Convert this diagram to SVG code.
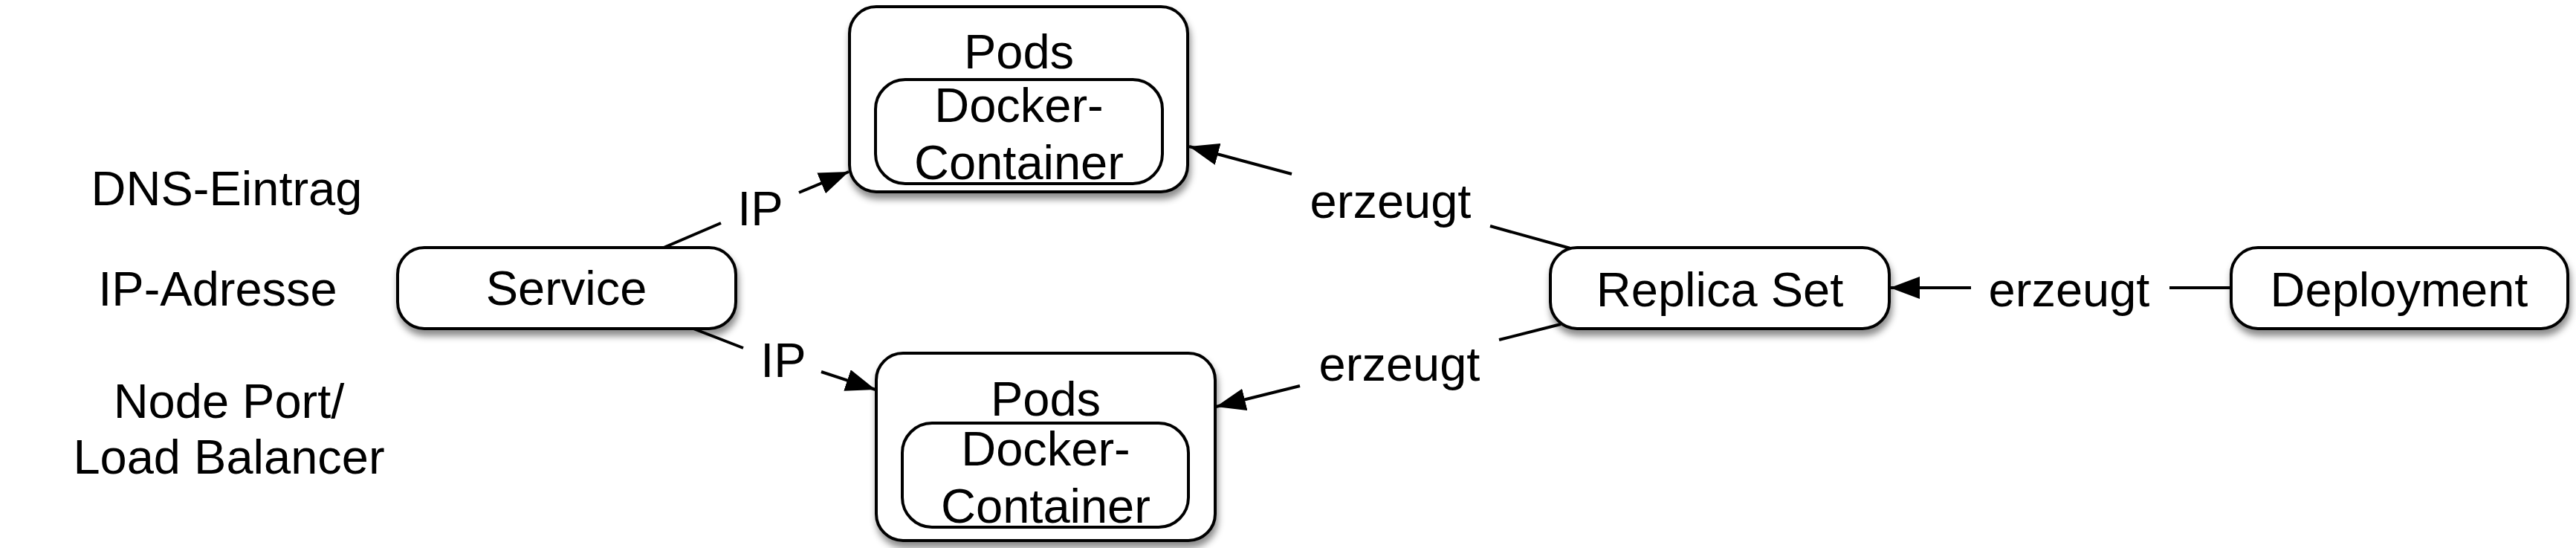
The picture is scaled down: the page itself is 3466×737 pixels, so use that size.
<svg xmlns="http://www.w3.org/2000/svg" width="3466" height="737" viewBox="0 0 3466 737">
<style>
.box{fill:#fff;stroke:#000;stroke-width:4;filter:url(#sh)}
.inner{fill:#fff;stroke:#000;stroke-width:4}
.t{font-family:"Liberation Sans",Arial,sans-serif;font-size:65px;fill:#000;text-anchor:middle}
.c{fill:none;stroke:#000;stroke-width:4}
.a{marker-end:url(#ah)}
</style>
<defs>
<filter id="sh" x="-10%" y="-20%" width="120%" height="150%">
<feDropShadow dx="2" dy="8" stdDeviation="5" flood-color="#000" flood-opacity="0.45"/>
</filter>
<marker id="ah" markerUnits="userSpaceOnUse" markerWidth="40" markerHeight="30" refX="40" refY="15" orient="auto">
<path d="M0,0 L40,15 L0,30 z" fill="#000"/>
</marker>
</defs>
<rect width="3466" height="737" fill="#fff"/>
<g id="connectors">
<line class="c" x1="893" y1="333" x2="970" y2="300"/>
<line class="c a" x1="1075" y1="259" x2="1142" y2="231"/>
<text class="t" x="1023" y="303">IP</text>
<line class="c" x1="933" y1="442" x2="1000" y2="468"/>
<line class="c a" x1="1105" y1="500" x2="1178" y2="524"/>
<text class="t" x="1054" y="507">IP</text>
<line class="c" x1="2113" y1="334" x2="2005" y2="304"/>
<line class="c a" x1="1738" y1="234" x2="1600" y2="197"/>
<text class="t" x="1871" y="293">erzeugt</text>
<line class="c" x1="2100" y1="436" x2="2017" y2="457"/>
<line class="c a" x1="1749" y1="519" x2="1636" y2="547"/>
<text class="t" x="1883" y="512">erzeugt</text>
<line class="c" x1="3002" y1="387" x2="2919" y2="387"/>
<line class="c a" x1="2652" y1="387" x2="2543" y2="387"/>
<text class="t" x="2784" y="412">erzeugt</text>
</g>
<g id="labels">
<text class="t" x="305" y="276">DNS-Eintrag</text>
<text class="t" x="293" y="411">IP-Adresse</text>
<text class="t" x="308" y="562">Node Port/</text>
<text class="t" x="308" y="637">Load Balancer</text>
</g>
<g id="service">
<rect class="box" x="535" y="333" width="455" height="109" rx="36"/>
<text class="t" x="762" y="410">Service</text>
</g>
<g id="pods-top">
<rect class="box" x="1143" y="9" width="455" height="249" rx="36"/>
<text class="t" x="1371" y="92">Pods</text>
<rect class="inner" x="1178" y="107" width="386" height="140" rx="40"/>
<text class="t" x="1371" y="164">Docker-</text>
<text class="t" x="1371" y="241">Container</text>
</g>
<g id="pods-bottom">
<rect class="box" x="1179" y="475" width="456" height="252" rx="36"/>
<text class="t" x="1407" y="559">Pods</text>
<rect class="inner" x="1214" y="569" width="385" height="140" rx="40"/>
<text class="t" x="1407" y="626">Docker-</text>
<text class="t" x="1407" y="703">Container</text>
</g>
<g id="replica-set">
<rect class="box" x="2086" y="333" width="456" height="109" rx="36"/>
<text class="t" x="2314" y="412">Replica Set</text>
</g>
<g id="deployment">
<rect class="box" x="3002" y="333" width="453" height="109" rx="36"/>
<text class="t" x="3228" y="412">Deployment</text>
</g>
</svg>
